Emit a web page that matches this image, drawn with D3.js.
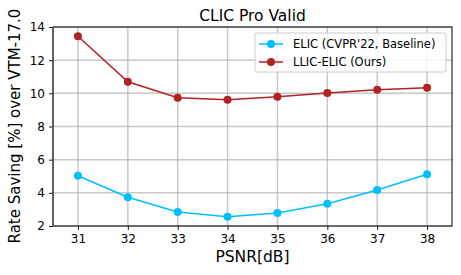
<!DOCTYPE html>
<html><head><meta charset="utf-8">
<script src="https://cdn.jsdelivr.net/npm/d3@7"></script>
<style>body{margin:0;background:#fff}svg{display:block;font-family:"DejaVu Sans",sans-serif}</style>
</head><body><svg id="c" width="461" height="275"></svg>
<script>
const psnr = [31, 32, 33, 34, 35, 36, 37, 38];
const elic = [5.03, 3.73, 2.84, 2.56, 2.78, 3.34, 4.17, 5.12];
const llic = [13.44, 10.70, 9.74, 9.62, 9.80, 10.02, 10.22, 10.34];
const yTicks = [2, 4, 6, 8, 10, 12, 14];
const seriesNames = ["ELIC (CVPR'22, Baseline)", "LLIC-ELIC (Ours)"];
const colors = ["#00BFFF", "#B22222"];

const svg = d3.select("#c");
const L = 53, R = 452, T = 27, B = 226;
const x = d3.scaleLinear().domain([30.5, 38.5]).range([L, R]);
const y = d3.scaleLinear().domain([2, 14]).range([B, T]);

// grid
const g = svg.append("g");
g.selectAll("line.gx").data(psnr).join("line")
  .attr("x1", d => x(d)).attr("x2", d => x(d)).attr("y1", T).attr("y2", B)
  .attr("stroke", "#b0b0b0").attr("stroke-opacity", 0.7).attr("stroke-width", 1.5);
g.selectAll("line.gy").data(yTicks).join("line")
  .attr("y1", d => y(d)).attr("y2", d => y(d)).attr("x1", L).attr("x2", R)
  .attr("stroke", "#b0b0b0").attr("stroke-opacity", 0.7).attr("stroke-width", 1.5);

// axes
const xa = svg.append("g").attr("transform", `translate(0,${B})`)
  .call(d3.axisBottom(x).tickValues(psnr).tickFormat(d3.format("d")).tickSize(4).tickPadding(4));
const ya = svg.append("g").attr("transform", `translate(${L},0)`)
  .call(d3.axisLeft(y).tickValues(yTicks).tickFormat(d3.format("d")).tickSize(4).tickPadding(4));
[xa, ya].forEach(a => {
  a.select(".domain").remove();
  a.selectAll("text").attr("font-size", 12).attr("font-family", "DejaVu Sans").attr("fill", "#000");
  a.selectAll("line").attr("stroke", "#000").attr("stroke-width", 0.9);
});

// spines
svg.append("rect").attr("x", L).attr("y", T).attr("width", R - L).attr("height", B - T)
  .attr("fill", "none").attr("stroke", "#000").attr("stroke-width", 1);
svg.append("line").attr("x1", L).attr("x2", L).attr("y1", T).attr("y2", B)
  .attr("stroke", "#555").attr("stroke-width", 1.5);

// lines
[elic, llic].forEach((vals, i) => {
  const data = psnr.map((p, j) => [p, vals[j]]);
  svg.append("path").datum(data)
    .attr("d", d3.line().x(d => x(d[0])).y(d => y(d[1])))
    .attr("fill", "none").attr("stroke", colors[i]).attr("stroke-width", 1.5);
  svg.append("g").selectAll("circle").data(data).join("circle")
    .attr("cx", d => x(d[0])).attr("cy", d => y(d[1])).attr("r", 4)
    .attr("fill", colors[i]);
});

// title & labels
svg.append("text").attr("x", (L + R) / 2).attr("y", 21).attr("text-anchor", "middle")
  .attr("font-size", 15.5).text("CLIC Pro Valid");
svg.append("text").attr("x", (L + R) / 2).attr("y", 262).attr("text-anchor", "middle")
  .attr("font-size", 15.5).text("PSNR[dB]");
svg.append("text").attr("transform", `translate(20,126) rotate(-90)`)
  .attr("text-anchor", "middle").attr("font-size", 15).text("Rate Saving [%] over VTM-17.0");

// legend
const lg = svg.append("g");
lg.append("rect").attr("x", 255).attr("y", 33).attr("width", 191).attr("height", 39).attr("rx", 2)
  .attr("fill", "#fff").attr("fill-opacity", 0.8).attr("stroke", "#ccc").attr("stroke-width", 1);
seriesNames.forEach((n, i) => {
  const yy = 44 + i * 18;
  lg.append("line").attr("x1", 259).attr("x2", 283).attr("y1", yy).attr("y2", yy)
    .attr("stroke", colors[i]).attr("stroke-width", 1.5);
  lg.append("circle").attr("cx", 271).attr("cy", yy).attr("r", 4).attr("fill", colors[i]);
  lg.append("text").attr("x", 293).attr("y", yy + 4).attr("font-size", 11.5).text(n);
});
</script></body></html>
